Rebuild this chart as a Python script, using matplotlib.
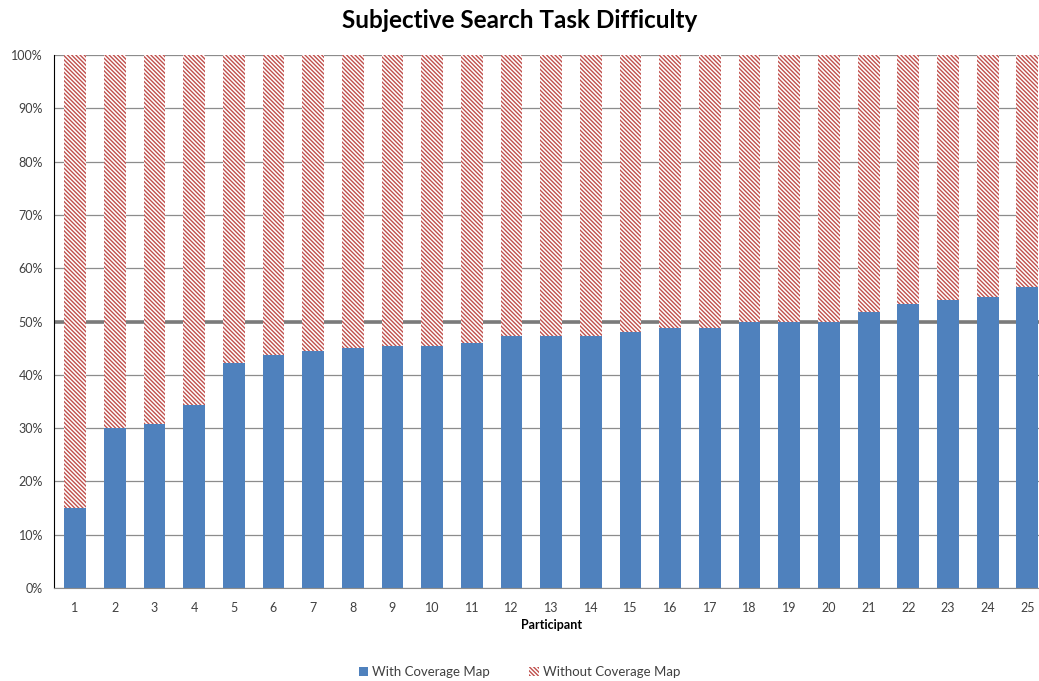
import matplotlib.pyplot as plt
import numpy as np
from matplotlib.ticker import PercentFormatter

# share of tasks judged easier, per participant (percent)
participants = [str(i) for i in range(1, 26)]
with_map = [15.0, 30.0, 30.8, 34.3, 42.2, 43.7, 44.5, 45.0, 45.5, 45.5,
            46.0, 47.3, 47.3, 47.3, 48.0, 48.8, 48.8, 50.0, 50.0, 50.0,
            51.8, 53.3, 54.1, 54.6, 56.5]
without_map = [100 - v for v in with_map]

BLUE = "#4F81BD"
RED = "#C0504D"

plt.rcParams["font.family"] = ["Lato", "DejaVu Sans"]
plt.rcParams["hatch.linewidth"] = 1.0
plt.rcParams["hatch.color"] = RED

fig = plt.figure(figsize=(10.39, 6.81), dpi=100)
ax = fig.add_axes([0.052, 0.1366, 0.957, 0.7824])

x = np.arange(1, len(participants) + 1)
ax.bar(x, with_map, width=0.55, color=BLUE, zorder=2,
       label="With Coverage Map")
ax.bar(x, without_map, bottom=with_map, width=0.55, color="white",
       edgecolor=RED, linewidth=0, hatch="\\" * 8, zorder=2,
       label="Without Coverage Map")

ax.set_xlim(0.47, 25.53)
ax.set_ylim(0, 100)
ax.set_yticks(np.arange(0, 101, 10))
ax.yaxis.set_major_formatter(PercentFormatter(decimals=0))
ax.set_xticks(x)
ax.set_xticklabels(participants)
ax.tick_params(axis="both", length=0, labelsize=9, colors="#404040")
ax.tick_params(axis="x", pad=10)
ax.tick_params(axis="y", pad=8)

ax.grid(axis="y", color="#8C8C8C", linewidth=0.9, zorder=0)
ax.set_axisbelow(True)
ax.axhline(50, color="#7A7A7A", linewidth=2.6, zorder=1)

for side in ["top", "right"]:
    ax.spines[side].set_visible(False)
ax.spines["left"].set_color("black")
ax.spines["bottom"].set_color("#8C8C8C")

ax.set_xlabel("Participant", fontsize=9, fontweight="bold", labelpad=4)
fig.suptitle("Subjective Search Task Difficulty", fontsize=17.5,
             fontweight="bold", x=0.5, y=0.987)

fig.legend(loc="center", bbox_to_anchor=(0.5, 0.013), ncol=2, frameon=False,
           fontsize=9.5, handlelength=0.7, handleheight=0.7,
           handletextpad=0.3, columnspacing=3.0, labelcolor="#404040")

fig.savefig("out.png", dpi=100)
